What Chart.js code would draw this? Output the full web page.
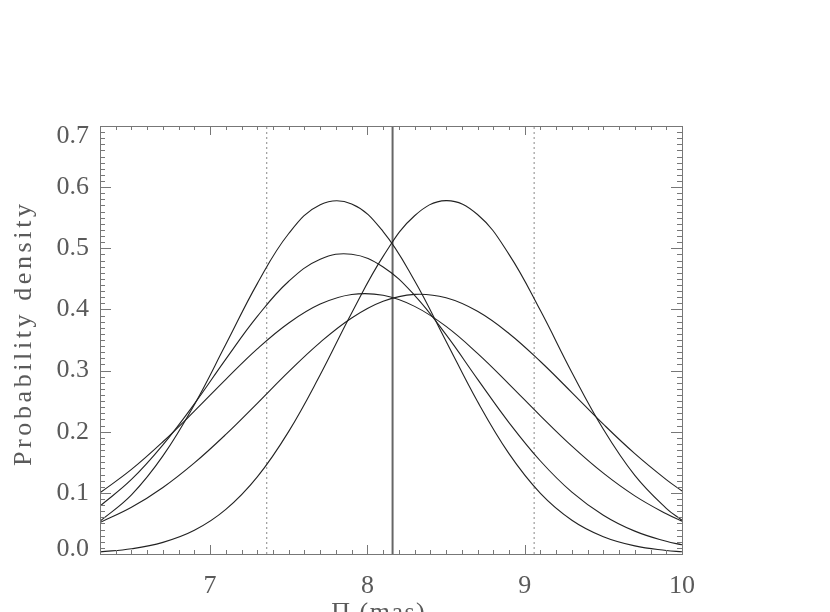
<!DOCTYPE html>
<html>
<head>
<meta charset="utf-8">
<script src="https://cdn.jsdelivr.net/npm/chart.js@4.4.1/dist/chart.umd.min.js"></script>
<style>
    html, body { margin: 0; padding: 0; background: #fff; }
</style>
</head>
<body>
<canvas id="chart" width="830" height="612"></canvas>
<script>
// Parallax grid (mas) and probability density of the five curves
const parallax = [6.3, 6.5, 6.7, 6.9, 7.1, 7.3, 7.5, 7.7, 7.9, 8.1, 8.3, 8.5, 8.7, 8.9, 9.1, 9.3, 9.5, 9.7, 9.9, 10.0];
const densityA = [0.0536, 0.0967, 0.1604, 0.2443, 0.3429, 0.4422, 0.5242, 0.5713, 0.5725, 0.5274, 0.4470, 0.3481, 0.2493, 0.1641, 0.0992, 0.0553, 0.0283, 0.0133, 0.0058, 0.0037];
const densityB = [0.0035, 0.0085, 0.0190, 0.0387, 0.0729, 0.1261, 0.2006, 0.2931, 0.3941, 0.4867, 0.5532, 0.5780, 0.5552, 0.4901, 0.3981, 0.2970, 0.2041, 0.1287, 0.0747, 0.0551];
const densityC = [0.0785, 0.1219, 0.1785, 0.2456, 0.3188, 0.3886, 0.4461, 0.4821, 0.4903, 0.4694, 0.4231, 0.3587, 0.2861, 0.2150, 0.1521, 0.1012, 0.0635, 0.0374, 0.0207, 0.0151];
const densityD = [0.1001, 0.1383, 0.1836, 0.2336, 0.2856, 0.3354, 0.3778, 0.4087, 0.4244, 0.4231, 0.4050, 0.3722, 0.3281, 0.2780, 0.2260, 0.1764, 0.1322, 0.0951, 0.0657, 0.0537];
const densityE = [0.0515, 0.0763, 0.1088, 0.1490, 0.1956, 0.2465, 0.2983, 0.3462, 0.3861, 0.4134, 0.4247, 0.4190, 0.3969, 0.3607, 0.3148, 0.2640, 0.2123, 0.1641, 0.1216, 0.1031];

// vertical reference lines
const solidLineAt = 8.16;
const dottedLinesAt = [7.36, 9.06];

// axes
const xRange = [6.3, 10.0];
const yRange = [0.0, 0.7];
const xTickValues = [7, 8, 9, 10];
const yTickValues = [0.0, 0.1, 0.2, 0.3, 0.4, 0.5, 0.6, 0.7];

const xTitle = "\u03A0 (mas)";
const yTitle = "Probability density";

const FONT = "'Liberation Serif', 'Times New Roman', serif";
const TEXT_COLOR = "#5a5a5a";

function toPoints(xs, ys) {
    return xs.map((x, i) => ({ x: x, y: ys[i] }));
}

function vline(x) {
    return [{ x: x, y: yRange[0] }, { x: x, y: yRange[1] }];
}

const curveStyle = {
    borderColor: "#222",
    borderWidth: 1.1,
    pointRadius: 0,
    tension: 0.4,
    fill: false
};

const datasets = [densityA, densityB, densityC, densityD, densityE].map(d =>
    Object.assign({ data: toPoints(parallax, d) }, curveStyle));

datasets.push({
    data: vline(solidLineAt),
    borderColor: "#666",
    borderWidth: 2,
    pointRadius: 0
});
dottedLinesAt.forEach(x => datasets.push({
    data: vline(x),
    borderColor: "#888",
    borderWidth: 1,
    borderDash: [2, 3],
    pointRadius: 0
}));

// text with extra letter spacing, centred on x
function spacedText(ctx, text, x, y, spacing) {
    let total = 0;
    for (const ch of text) total += ctx.measureText(ch).width + spacing;
    total -= spacing;
    let pos = x - total / 2;
    for (const ch of text) {
        ctx.fillText(ch, pos, y);
        pos += ctx.measureText(ch).width + spacing;
    }
}

// boxed frame with inward major/minor ticks, y labels and axis titles
const framePlugin = {
    id: "frame",
    afterDraw(chart) {
        const ctx = chart.ctx;
        const a = chart.chartArea;
        const xs = chart.scales.x;
        const ys = chart.scales.y;
        ctx.save();
        ctx.strokeStyle = "#777";
        ctx.lineWidth = 1;
        ctx.strokeRect(a.left + 0.5, a.top + 0.5, a.right - a.left, a.bottom - a.top);

        ctx.beginPath();
        // x ticks every 0.1, major on integers
        for (let i = Math.round(xRange[0] * 10); i <= Math.round(xRange[1] * 10); i++) {
            const px = Math.round(xs.getPixelForValue(i / 10)) + 0.5;
            const len = (i % 10 === 0) ? 9 : 4;
            ctx.moveTo(px, a.bottom);
            ctx.lineTo(px, a.bottom - len);
            ctx.moveTo(px, a.top);
            ctx.lineTo(px, a.top + len);
        }
        // y ticks every 0.01, major every 0.1
        for (let j = 0; j <= 70; j++) {
            const py = Math.round(ys.getPixelForValue(j / 100)) + 0.5;
            const len = (j % 10 === 0) ? 11 : 5;
            ctx.moveTo(a.left, py);
            ctx.lineTo(a.left + len, py);
            ctx.moveTo(a.right, py);
            ctx.lineTo(a.right - len, py);
        }
        ctx.stroke();

        ctx.fillStyle = TEXT_COLOR;
        ctx.font = "26px " + FONT;

        // y tick labels: end labels kept inside the frame height, like the original
        ctx.textAlign = "right";
        ctx.textBaseline = "middle";
        yTickValues.forEach((v, k) => {
            let py = ys.getPixelForValue(v);
            if (k === yTickValues.length - 1) py += 10;
            if (k === 0) py -= 5;
            ctx.fillText(v.toFixed(1), a.left - 11, py);
        });

        ctx.textAlign = "left";
        ctx.save();
        ctx.translate(24, 335);
        ctx.rotate(-Math.PI / 2);
        spacedText(ctx, yTitle, 0, 0, 3.6);
        ctx.restore();

        ctx.textBaseline = "alphabetic";
        spacedText(ctx, xTitle, 378, 620, 1.5);
        ctx.restore();
    }
};

new Chart(document.getElementById("chart"), {
    type: "line",
    data: { datasets: datasets },
    options: {
        responsive: false,
        devicePixelRatio: 1,
        animation: false,
        layout: { padding: { top: 126, right: 148, left: 0, bottom: 0 } },
        plugins: { legend: { display: false }, tooltip: { enabled: false } },
        scales: {
            x: {
                type: "linear",
                min: xRange[0],
                max: xRange[1],
                grid: { display: false, drawTicks: false },
                border: { display: false },
                afterBuildTicks: scale => { scale.ticks = xTickValues.map(v => ({ value: v })); },
                afterFit: scale => { scale.height = 58; },
                ticks: {
                    padding: 17,
                    color: TEXT_COLOR,
                    font: { family: FONT, size: 26 },
                    maxRotation: 0,
                    callback: v => String(v)
                }
            },
            y: {
                type: "linear",
                min: yRange[0],
                max: yRange[1],
                grid: { display: false, drawTicks: false },
                border: { display: false },
                afterBuildTicks: scale => { scale.ticks = yTickValues.map(v => ({ value: v })); },
                afterFit: scale => { scale.width = 100; },
                ticks: { display: false }
            }
        }
    },
    plugins: [framePlugin]
});
</script>
</body>
</html>
